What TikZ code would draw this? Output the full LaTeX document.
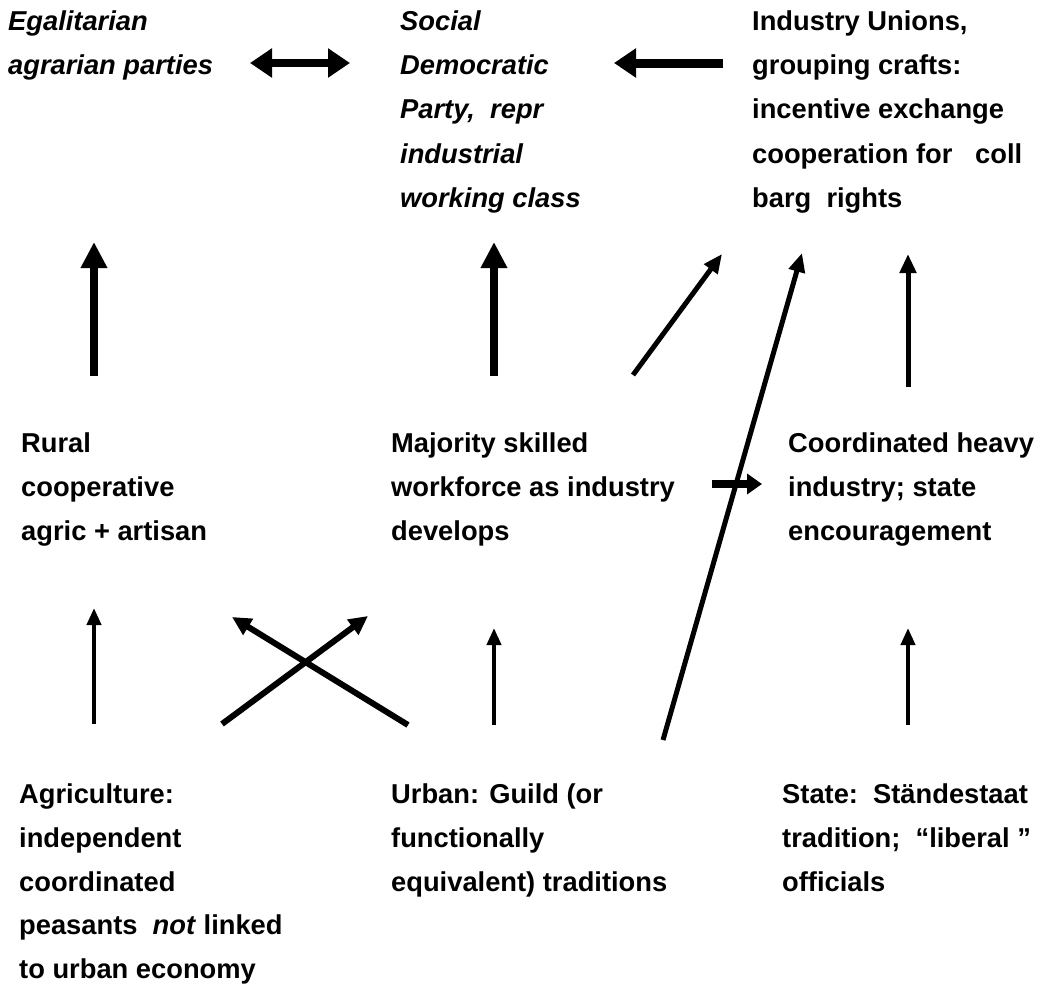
\documentclass[tikz,border=0pt]{standalone}
\usepackage{fontspec}
\setmainfont{Liberation Sans}
\usetikzlibrary{arrows.meta}
\begin{document}
\begin{tikzpicture}[x=1pt,y=-1pt,
  txt/.style={anchor=north west,inner sep=0pt,align=left,
    font=\fontsize{27.3}{44.2}\selectfont\bfseries},
  itxt/.style={txt,font=\fontsize{27.3}{44.2}\selectfont\bfseries\itshape},
  btxt/.style={txt,font=\fontsize{27.3}{43.6}\selectfont\bfseries},
  heavy/.style={line width=8pt,-{Triangle[length=26pt,width=25pt]}},
  toparrow/.style={line width=9pt,-{Triangle[length=22pt,width=28pt]}},
  topdouble/.style={line width=8pt,{Triangle[length=22pt,width=28pt]}-{Triangle[length=22pt,width=28pt]}},
  midthin/.style={line width=5pt,-{Triangle[length=19pt,width=16pt]}},
  lowthin/.style={line width=4pt,-{Triangle[length=17pt,width=14pt]}},
  cross/.style={line width=6pt,-{Triangle[length=19pt,width=18pt]}},
  short/.style={line width=8pt,-{Triangle[length=15pt,width=20pt]}}]
\useasboundingbox (0,0) rectangle (1042,985);
\fill[white] (0,0) rectangle (1042,985);

% top row
\node[itxt] (egal) at (8,10.5) {Egalitarian\\agrarian parties};
\node[itxt] (sdp) at (400,10.5) {Social\\Democratic\\Party,\ \ repr\\industrial\\working class};
\node[txt] (unions) at (752,10.5) {Industry Unions,\\grouping crafts:\\incentive exchange\\cooperation for\ \ \ coll\\barg\ \ rights};

% middle row
\node[txt] (rural) at (21,432.5) {Rural\\cooperative\\agric + artisan};
\node[txt] (skilled) at (391,432.5) {Majority skilled\\workforce as industry\\develops};
\node[txt] (heavyind) at (788,432.5) {Coordinated heavy\\industry; state\\encouragement};

% bottom row
\node[btxt] (agri) at (19,784) {Agriculture:\\independent\\coordinated\\peasants\ \ \textit{not} linked\\to urban economy};
\node[btxt] (urban) at (391,784) {Urban: Guild (or\\functionally\\equivalent) traditions};
\node[btxt] (state) at (782,784) {State:\ \ Ständestaat\\tradition;\ \ “liberal ”\\officials};

% arrow end points
\coordinate (d1) at (250,63); \coordinate (d2) at (350,63);
\coordinate (l1) at (723,63); \coordinate (l2) at (614,63);
\coordinate (r1a) at (94,376); \coordinate (r1b) at (94,242);
\coordinate (m1a) at (494,376); \coordinate (m1b) at (494,242);
\coordinate (diaga) at (633,375); \coordinate (diagb) at (722,254);
\coordinate (longa) at (663,740); \coordinate (longb) at (802,253);
\coordinate (s1a) at (908,387); \coordinate (s1b) at (908,254);
\coordinate (sha) at (712,484); \coordinate (shb) at (762,484);
\coordinate (b1a) at (94,724); \coordinate (b1b) at (94,608);
\coordinate (b2a) at (494,725); \coordinate (b2b) at (494,628);
\coordinate (b3a) at (908,725); \coordinate (b3b) at (908,628);
\coordinate (xa1) at (222,724); \coordinate (xb1) at (368,616);
\coordinate (xa2) at (408,725); \coordinate (xb2) at (232,617);

\draw[topdouble] (d1) -- (d2);
\draw[toparrow] (l1) -- (l2);
\draw[heavy] (r1a) -- (r1b);
\draw[heavy] (m1a) -- (m1b);
\draw[midthin] (diaga) -- (diagb);
\draw[midthin] (s1a) -- (s1b);
\draw[short] (sha) -- (shb);
\draw[midthin] (longa) -- (longb);
\draw[lowthin] (b1a) -- (b1b);
\draw[lowthin] (b2a) -- (b2b);
\draw[lowthin] (b3a) -- (b3b);
\draw[cross] (xa1) -- (xb1);
\draw[cross] (xa2) -- (xb2);
\end{tikzpicture}
\end{document}
